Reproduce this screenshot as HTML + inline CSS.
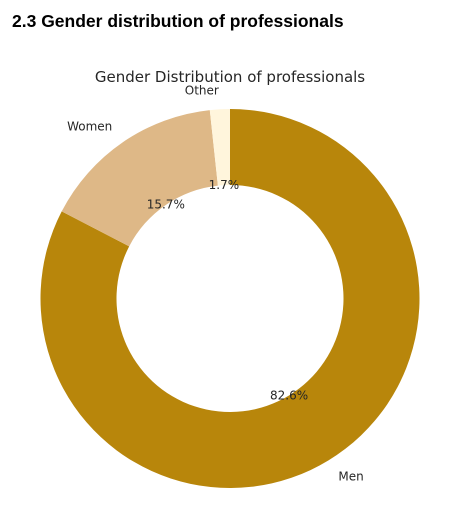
<!DOCTYPE html>
<html lang="en">
<head>
<meta charset="utf-8">
<title>Gender distribution of professionals</title>
<style>
  html, body { margin: 0; padding: 0; background: #fff; }
  body { width: 466px; height: 523px; overflow: hidden; position: relative; }
  h2 { position: absolute; left: 12px; top: 11px; margin: 0; font: bold 17.5px/20px "Liberation Sans", sans-serif; color: #000; white-space: nowrap; }
  svg { position: absolute; left: 0; top: 0; }
  text { font-family: "DejaVu Sans", sans-serif; fill: #262626; }
</style>
</head>
<body>
<h2>2.3 Gender distribution of professionals</h2>
<svg id="chart" width="466" height="523" viewBox="0 0 466 523">
  <text x="230" y="82" text-anchor="middle" font-size="15">Gender Distribution of professionals</text>
</svg>
<script>
const categories = ['Men', 'Women', 'Other'];
const shares = [82.6, 15.7, 1.7];
const sliceColors = ['#b8860b', '#deb887', '#fff5dc'];

const svgNS = 'http://www.w3.org/2000/svg';
const chart = document.getElementById('chart');
const cx = 230, cy = 298.5, outerR = 189.5, innerR = 113.5;
const total = shares.reduce((a, b) => a + b, 0);

function angleFor(cumulative) {
  return (cumulative / total) * 2 * Math.PI;
}
function px(angle, r) {
  return cx + r * Math.sin(angle);
}
function py(angle, r) {
  return cy - r * Math.cos(angle);
}
function slicePath(a0, a1) {
  const large = a1 - a0 > Math.PI ? 1 : 0;
  return 'M' + px(a0, outerR) + ' ' + py(a0, outerR) +
    'A' + outerR + ' ' + outerR + ' 0 ' + large + ' 1 ' + px(a1, outerR) + ' ' + py(a1, outerR) +
    'L' + px(a1, innerR) + ' ' + py(a1, innerR) +
    'A' + innerR + ' ' + innerR + ' 0 ' + large + ' 0 ' + px(a0, innerR) + ' ' + py(a0, innerR) + 'Z';
}

let running = 0;
const labelLayer = [];
shares.forEach((value, i) => {
  const a0 = angleFor(running);
  running += value;
  const a1 = angleFor(running);
  const mid = (a0 + a1) / 2;
  const slug = categories[i].toLowerCase();

  const path = document.createElementNS(svgNS, 'path');
  path.setAttribute('d', slicePath(a0, a1));
  path.setAttribute('fill', sliceColors[i]);
  
  
  chart.appendChild(path);

  const label = document.createElementNS(svgNS, 'text');
  label.setAttribute('x', px(mid, outerR * 1.1));
  label.setAttribute('y', py(mid, outerR * 1.1) + 4);
  label.setAttribute('font-size', '12');
  label.setAttribute('text-anchor', Math.sin(mid) >= 0 ? 'start' : 'end');
  label.textContent = categories[i];
  
  
  labelLayer.push(label);

  const pct = document.createElementNS(svgNS, 'text');
  pct.setAttribute('x', px(mid, outerR * 0.6));
  pct.setAttribute('y', py(mid, outerR * 0.6) + 4);
  pct.setAttribute('font-size', '12');
  pct.setAttribute('text-anchor', 'middle');
  pct.textContent = value.toFixed(1) + '%';
  
  
  labelLayer.push(pct);
});
labelLayer.forEach(el => chart.appendChild(el));
</script>
</body>
</html>
